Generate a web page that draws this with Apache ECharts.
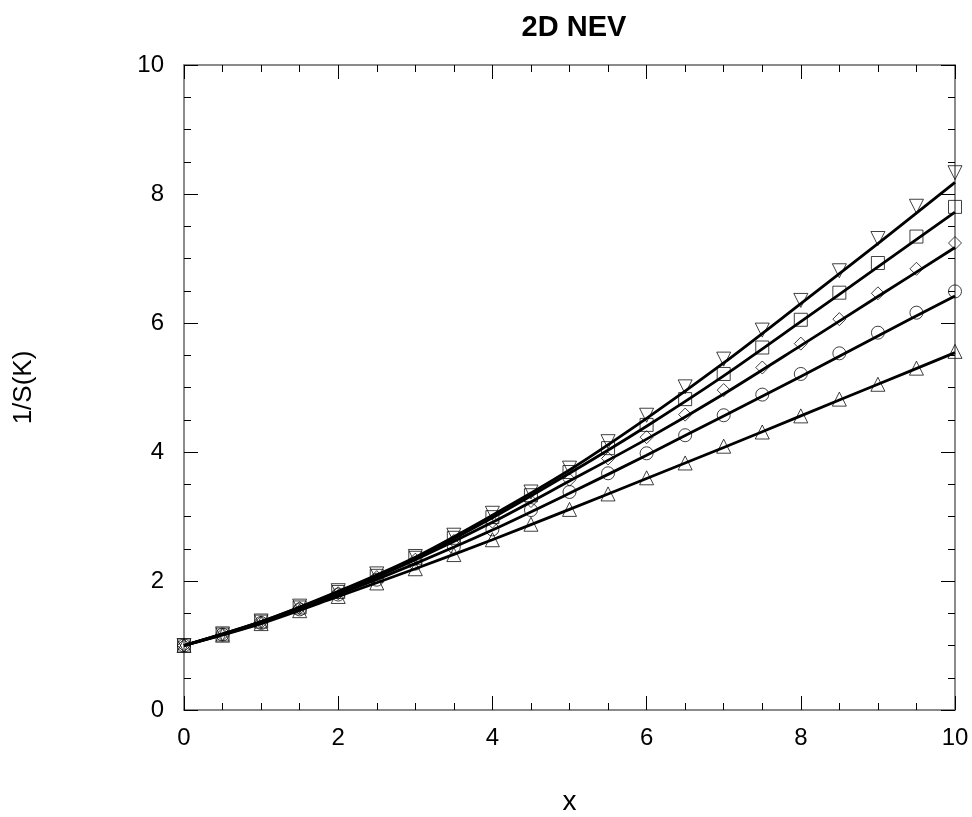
<!DOCTYPE html>
<html><head><meta charset="utf-8">
<script src="https://cdn.jsdelivr.net/npm/echarts@6/dist/echarts.min.js"></script>
<style>html,body{margin:0;padding:0;background:#fff}#c{width:972px;height:817px}</style>
</head><body><div id="c"></div>
<script>
// marker x positions
const xPts = [0,0.5,1,1.5,2,2.5,3,3.5,4,4.5,5,5.5,6,6.5,7,7.5,8,8.5,9,9.5,10];
const upTri  = [1.00,1.16,1.34,1.54,1.76,1.97,2.19,2.41,2.64,2.88,3.11,3.35,3.60,3.83,4.09,4.31,4.56,4.82,5.05,5.30,5.56];
const circ   = [1.00,1.17,1.35,1.56,1.79,2.02,2.27,2.53,2.80,3.10,3.38,3.67,3.98,4.26,4.57,4.89,5.21,5.53,5.85,6.16,6.49];
const diam   = [1.00,1.17,1.36,1.58,1.81,2.06,2.33,2.62,2.92,3.24,3.57,3.90,4.23,4.58,4.96,5.31,5.68,6.06,6.46,6.84,7.24];
const sq     = [1.00,1.17,1.37,1.59,1.83,2.08,2.36,2.67,2.99,3.33,3.69,4.06,4.42,4.82,5.21,5.62,6.05,6.47,6.93,7.34,7.80];
const dnTri  = [1.00,1.18,1.38,1.61,1.85,2.11,2.38,2.71,3.05,3.38,3.75,4.16,4.57,5.01,5.44,5.89,6.35,6.81,7.31,7.81,8.33];
// fitted line x positions and values
const xLine = [0,1,2,3,4,5,6,7,8,9,10];
const upLine   = [1,1.34,1.76,2.19,2.64,3.11,3.59,4.07,4.56,5.05,5.54];
const circLine = [1,1.35,1.79,2.27,2.79,3.36,3.95,4.56,5.17,5.80,6.42];
const diamLine = [1,1.36,1.81,2.33,2.91,3.55,4.20,4.90,5.65,6.41,7.17];
const sqLine   = [1,1.37,1.83,2.35,2.98,3.67,4.40,5.18,6.02,6.87,7.72];
const dnLine   = [1,1.37,1.84,2.37,3.02,3.72,4.52,5.38,6.30,7.23,8.18];

const FONT = '"Liberation Sans", Arial, sans-serif';
const zip = (xs, ys) => xs.map((x,i)=>[x, ys[i]]);

function markerSeries(vals, symbol, size, rotate){
  return {type:'scatter', data: zip(xPts, vals), symbol, symbolSize:size, symbolRotate:rotate||0,
    itemStyle:{color:'rgba(0,0,0,0)', borderColor:'#111', borderWidth:1}, z:2, silent:true};
}
function lineSeries(vals){
  return {type:'line', data: zip(xLine, vals), showSymbol:false, smooth:0.3,
    lineStyle:{color:'#000', width:2.8}, z:3, silent:true};
}
const axisCommon = {
  min:0, max:10, interval:2,
  axisLine:{show:true, onZero:false, lineStyle:{color:'#666', width:1.5}},
  axisTick:{show:true, inside:true, length:14, lineStyle:{color:'#000', width:1}},
  minorTick:{show:true, splitNumber:4, length:7, lineStyle:{color:'#000', width:1}},
  splitLine:{show:false}
};
const chart = echarts.init(document.getElementById('c'));
chart.setOption({
  animation:false,
  backgroundColor:'#fff',
  title:{text:'2D NEV', left:569, top:8, textAlign:'center',
    textStyle:{fontFamily:FONT, fontSize:29, fontWeight:'bold', color:'#000'}},
  grid:{left:184, right:17, top:65, bottom:107, containLabel:false, outerBoundsMode:'none'},
  xAxis:[
    Object.assign({}, axisCommon, {type:'value', position:'bottom', name:'x', nameLocation:'middle', nameGap:78,
      nameTextStyle:{fontFamily:FONT, fontSize:28, color:'#000'},
      axisLabel:{fontFamily:FONT, fontSize:24, color:'#000', margin:16}}),
    Object.assign({}, axisCommon, {type:'value', position:'top', axisLabel:{show:false}})
  ],
  yAxis:[
    Object.assign({}, axisCommon, {type:'value', position:'left', name:'1/S(K)', nameLocation:'middle', nameGap:147,
      nameTextStyle:{fontFamily:FONT, fontSize:26, color:'#000'},
      axisLabel:{fontFamily:FONT, fontSize:24, color:'#000', margin:20}}),
    Object.assign({}, axisCommon, {type:'value', position:'right', axisLabel:{show:false}})
  ],
  series:[
    markerSeries(upTri,'triangle',14),
    markerSeries(circ,'circle',13),
    markerSeries(diam,'diamond',13),
    markerSeries(sq,'rect',13),
    markerSeries(dnTri,'triangle',14,180),
    lineSeries(upLine), lineSeries(circLine), lineSeries(diamLine), lineSeries(sqLine), lineSeries(dnLine)
  ]
});
</script></body></html>
